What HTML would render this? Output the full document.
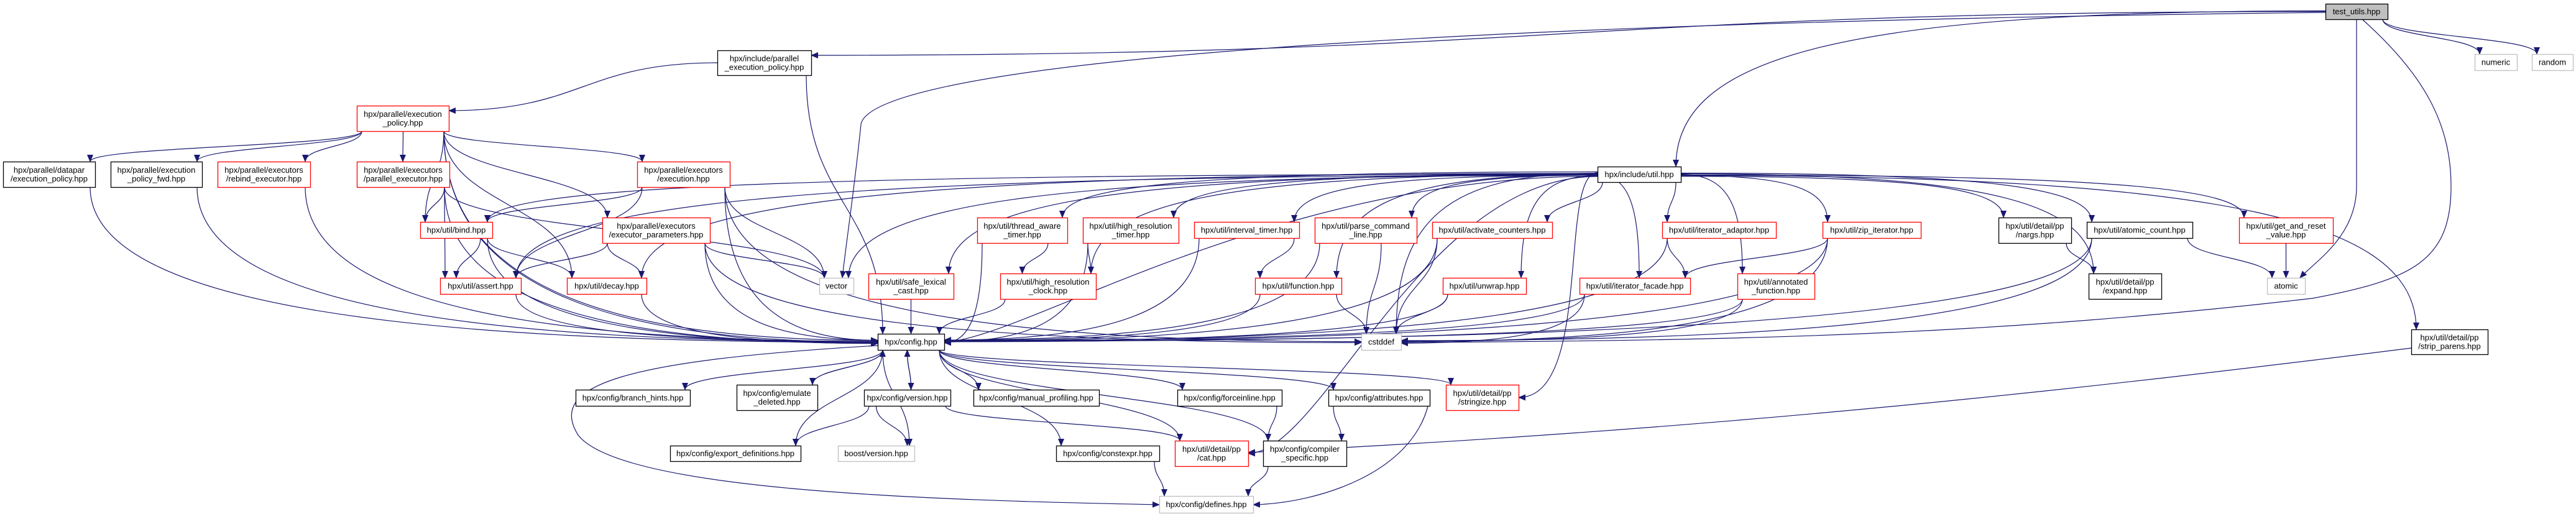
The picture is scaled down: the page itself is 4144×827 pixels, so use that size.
<!DOCTYPE html>
<html><head><meta charset="utf-8"><style>
html,body{margin:0;padding:0;background:#fff;width:4144px;height:827px;overflow:hidden}
svg{display:block}
text{font-family:"Liberation Sans",sans-serif;font-size:13px;fill:#000}
</style></head><body>
<svg id="g" width="4144" height="827" viewBox="0 0 4144 827" xmlns="http://www.w3.org/2000/svg">
<defs><marker id="a" markerUnits="userSpaceOnUse" markerWidth="12" markerHeight="10" refX="11" refY="5" orient="auto"><path d="M0,0 L12,5 L0,10 z" fill="#191970"/></marker></defs>
<g id="E" fill="none" stroke="#191970" stroke-width="1.2"></g>
<g id="N"></g>
</svg>
<script>
var N={
tu:[3741,6,3841,31,"g","test_utils.hpp"],
iep:[1154,81,1305,121,"k","hpx/include/parallel|_execution_policy.hpp"],
pep:[574,170,722,211,"r","hpx/parallel/execution|_policy.hpp"],
dp:[5,260,153,301,"k","hpx/parallel/datapar|/execution_policy.hpp"],
fwd:[178,260,325,301,"k","hpx/parallel/execution|_policy_fwd.hpp"],
reb:[350,260,499,301,"r","hpx/parallel/executors|/rebind_executor.hpp"],
pex:[574,260,723,301,"r","hpx/parallel/executors|/parallel_executor.hpp"],
exe:[1025,260,1174,301,"r","hpx/parallel/executors|/execution.hpp"],
bind:[676,357,792,383,"r","hpx/util/bind.hpp"],
epar:[969,350,1142,391,"r","hpx/parallel/executors|/executor_parameters.hpp"],
assert:[708,447,838,473,"r","hpx/util/assert.hpp"],
decay:[912,447,1040,473,"r","hpx/util/decay.hpp"],
vector:[1318,447,1373,473,"w","vector"],
util:[2570,268,2704,293,"k","hpx/include/util.hpp"],
tat:[1572,350,1717,391,"r","hpx/util/thread_aware|_timer.hpp"],
hrt:[1742,350,1896,391,"r","hpx/util/high_resolution|_timer.hpp"],
it:[1921,357,2090,383,"r","hpx/util/interval_timer.hpp"],
pcl:[2115,350,2279,391,"r","hpx/util/parse_command|_line.hpp"],
ac:[2304,357,2497,383,"r","hpx/util/activate_counters.hpp"],
ia:[2674,357,2857,383,"r","hpx/util/iterator_adaptor.hpp"],
zip:[2932,357,3090,383,"r","hpx/util/zip_iterator.hpp"],
nargs:[3215,350,3332,391,"k","hpx/util/detail/pp|/nargs.hpp"],
acnt:[3357,357,3527,383,"k","hpx/util/atomic_count.hpp"],
gar:[3602,350,3753,391,"r","hpx/util/get_and_reset|_value.hpp"],
slc:[1397,440,1534,481,"r","hpx/util/safe_lexical|_cast.hpp"],
hrc:[1609,440,1763,481,"r","hpx/util/high_resolution|_clock.hpp"],
fn:[2019,447,2158,473,"r","hpx/util/function.hpp"],
unw:[2321,447,2455,473,"r","hpx/util/unwrap.hpp"],
ifac:[2541,447,2719,473,"r","hpx/util/iterator_facade.hpp"],
ann:[2795,440,2919,481,"r","hpx/util/annotated|_function.hpp"],
exp:[3360,440,3477,481,"k","hpx/util/detail/pp|/expand.hpp"],
atomic:[3647,447,3708,473,"w","atomic"],
numeric:[3981,87,4049,113,"w","numeric"],
random:[4073,87,4139,113,"w","random"],
sp:[3879,530,4002,570,"k","hpx/util/detail/pp|/strip_parens.hpp"],
cfg:[1412,537,1519,563,"k","hpx/config.hpp"],
cst:[2190,537,2254,563,"w","cstddef"],
bh:[926,627,1110,653,"k","hpx/config/branch_hints.hpp"],
emu:[1185,619,1315,660,"k","hpx/config/emulate|_deleted.hpp"],
ver:[1390,627,1529,653,"k","hpx/config/version.hpp"],
mp:[1566,627,1768,653,"k","hpx/config/manual_profiling.hpp"],
fi:[1894,627,2062,653,"k","hpx/config/forceinline.hpp"],
attr:[2137,627,2300,653,"k","hpx/config/attributes.hpp"],
str:[2326,619,2443,660,"r","hpx/util/detail/pp|/stringize.hpp"],
exd:[1078,717,1288,742,"k","hpx/config/export_definitions.hpp"],
bv:[1348,717,1471,742,"w","boost/version.hpp"],
cx:[1699,717,1865,742,"k","hpx/config/constexpr.hpp"],
cat:[1890,709,2008,750,"r","hpx/util/detail/pp|/cat.hpp"],
cs:[2032,709,2166,750,"k","hpx/config/compiler|_specific.hpp"],
def:[1865,798,2016,825,"w","hpx/config/defines.hpp"]
};
var SN="http://www.w3.org/2000/svg",E=document.getElementById("E"),G=document.getElementById("N");
function cl(v,a,b){return Math.max(a,Math.min(b,v));}
function P(d){var p=document.createElementNS(SN,"path");p.setAttribute("d",d);p.setAttribute("marker-end","url(#a)");E.appendChild(p);}
function e(s,t,m){var a=N[s],b=N[t];var acx=(a[0]+a[2])/2,acy=(a[1]+a[3])/2,bcx=(b[0]+b[2])/2,bcy=(b[1]+b[3])/2;var x1,y1,x2,y2,d;m=m||"v";
if(m=="v"){x1=cl(bcx,a[0]+8,a[2]-8);y1=a[3];x2=cl(acx,b[0]+8,b[2]-8);y2=b[1];var dy=(y2-y1)*0.5;d="M"+x1+","+y1+" C"+x1+","+(y1+dy)+" "+x2+","+(y2-dy)+" "+x2+","+y2;}
else if(m=="u"){x1=cl(bcx,a[0]+8,a[2]-8);y1=a[1];x2=cl(acx,b[0]+8,b[2]-8);y2=b[3];var dy=(y1-y2)*0.5;d="M"+x1+","+y1+" C"+x1+","+(y1-dy)+" "+x2+","+(y2+dy)+" "+x2+","+y2;}
else if(m=="R"||m=="L"){x1=cl(bcx,a[0]+8,a[2]-8);y1=a[3];x2=m=="R"?b[2]:b[0];y2=bcy-3+Math.random()*6;var dx=Math.abs(x2-x1)*0.55;d="M"+x1+","+y1+" C"+x1+","+(y1+(y2-y1)*0.8)+" "+(m=="R"?x2+dx:x2-dx)+","+y2+" "+x2+","+y2;}
else if(m=="sv"){x1=bcx<acx?a[0]:a[2];y1=acy+(Math.random()*8-4);x2=cl(acx,b[0]+8,b[2]-8);y2=b[1];d="M"+x1+","+y1+" C"+(x1+(x2-x1)*0.75)+","+y1+" "+x2+","+(y1+(y2-y1)*0.3)+" "+x2+","+y2;}
else if(m=="sR"||m=="sL"){x1=bcx<acx?a[0]:a[2];y1=acy+(Math.random()*8-4);x2=m=="sR"?b[2]:b[0];y2=bcy;d="M"+x1+","+y1+" C"+(x1+(x2-x1)*0.5)+","+y1+" "+(x2+(m=="sR"?120:-120))+","+y2+" "+x2+","+y2;}
else if(m=="hh"){x1=bcx<acx?a[0]:a[2];y1=acy;x2=bcx<acx?b[2]:b[0];y2=b[1]+8;var mx=(x1+x2)/2;d="M"+x1+","+y1+" C"+mx+","+y1+" "+mx+","+y2+" "+x2+","+y2;}
P(d);}
// test_utils
e("tu","iep","hh");e("tu","util","sv");e("tu","numeric");e("tu","random");
P("M3741,20 C2000,40 1400,120 1385,200 C1375,300 1360,400 1355,447");
P("M3791,31 L3791,300 C3791,380 3725,420 3700,447");
P("M3800,31 C3900,120 3943,200 3943,300 C3943,420 3880,450 3720,480 C3200,540 2800,548 2254,551");
// parallel
e("iep","pep","hh");e("iep","cfg");
["dp","fwd","reb","pex","exe","epar","bind","decay"].forEach(function(t){e("pep",t);});
e("pep","cfg","L");
["dp","fwd","reb","pex","pep","bind","assert","decay","epar","exe"].forEach(function(s){e(s,"cfg","L");});
e("pex","bind");e("pex","assert");e("pex","vector");e("exe","vector");e("exe","bind");e("exe","assert");
e("bind","assert");e("bind","decay");e("epar","assert");e("epar","decay");e("epar","vector");e("epar","cst","L");e("exe","cst","L");
// util
["tat","hrt","it","pcl","ac","ia","zip","nargs","acnt","gar"].forEach(function(t){e("util",t,Math.abs((N[t][0]+N[t][2])/2-2637)>300?"sv":"v");});
["slc","hrc","fn","unw","ifac","ann","exp","sp","bind","assert","decay","vector","cst"].forEach(function(t){e("util",t,"sv");});
e("util","cfg","sR");e("util","str","sR");e("util","cat","sR");
e("tat","hrc");e("hrt","hrc");e("it","fn");
["tat","hrt","it","pcl","ac","fn","unw","ifac","ann","acnt","zip"].forEach(function(s){e(s,"cfg","R");});
e("hrc","cfg");e("slc","cfg");
["pcl","ac","fn","unw"].forEach(function(s){e(s,"cst");});
["ifac","ann","zip","acnt"].forEach(function(s){e(s,"cst","R");});
e("ia","ifac");e("zip","ifac");e("ia","cfg","R");
e("nargs","exp");e("acnt","atomic");e("gar","atomic");
P("M3879,560 C3400,620 2800,690 2008,728");
// config
["bh","emu","ver","mp","fi","attr","str","cat","cs","cx","exd","bv"].forEach(function(t){e("cfg",t);});
e("emu","cfg","u");e("ver","cfg","u");
e("ver","exd");e("ver","bv");e("ver","cat");
e("fi","cs");e("attr","cs");e("cx","def");e("cs","def");
P("M2300,640 C2280,760 2120,810 2016,812");
P("M1412,556 C1000,580 880,620 930,700 C1000,790 1500,805 1865,812");
</script>
<script>
(function(){var SN="http://www.w3.org/2000/svg",G=document.getElementById("N");
for(var k in N){var n=N[k];var r=document.createElementNS(SN,"rect");
r.setAttribute("x",n[0]+0.5);r.setAttribute("y",n[1]+0.5);r.setAttribute("width",n[2]-n[0]);r.setAttribute("height",n[3]-n[1]);
r.setAttribute("fill",n[4]=="g"?"#bfbfbf":"#fff");
r.setAttribute("stroke",n[4]=="r"?"#ff0000":(n[4]=="w"?"#bfbfbf":"#000"));r.setAttribute("stroke-width","1.3");G.appendChild(r);
var L=n[5].split("|"),cx=(n[0]+n[2])/2,cy=(n[1]+n[3])/2;
for(var i=0;i<L.length;i++){var t=document.createElementNS(SN,"text");t.setAttribute("x",cx);
t.setAttribute("y",cy+(i-(L.length-1)/2)*14+4.5);t.setAttribute("text-anchor","middle");t.textContent=L[i];G.appendChild(t);}}
})();
</script>
</body></html>
